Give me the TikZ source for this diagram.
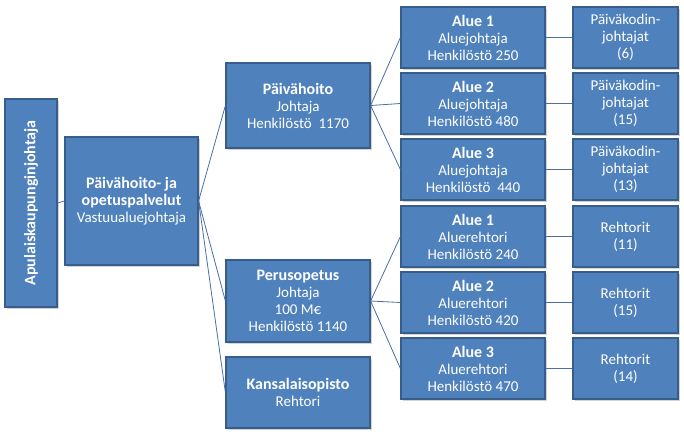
\documentclass[tikz,border=0pt]{standalone}
\usepackage{fontspec}
\setmainfont{Carlito}
\usetikzlibrary{shadows}
\definecolor{bfill}{HTML}{4F81BD}
\definecolor{bdraw}{HTML}{385D8A}
\definecolor{lcol}{HTML}{4A6FA5}
\tikzset{
  bx/.style={draw=bdraw, line width=1.2pt, fill=bfill, text=white, align=center, font=\fontsize{15}{17}\selectfont, inner sep=1pt, drop shadow={shadow xshift=2pt, shadow yshift=-2pt, opacity=0.35}},
  ln/.style={draw=lcol, line width=0.8pt}
}
\newcommand{\hd}[1]{{\bfseries\fontsize{16}{18}\selectfont #1}}
\begin{document}
\begin{tikzpicture}[x=1pt,y=-1pt]
\useasboundingbox (0,0) rectangle (684,442);
\newcommand{\bxat}[6]{\node[bx, minimum width=#4pt, minimum height=#5pt] (#1) at (#2,#3) {#6};}
\bxat{a}{31}{203}{52}{208}{}
\node[text=white, rotate=90, font=\bfseries\fontsize{16}{18}\selectfont] (at) at (a) {Apulaiskaupunginjohtaja};
\bxat{b}{131.5}{201}{133}{128}{\hd{Päivähoito- ja}\\\hd{opetuspalvelut}\\Vastuualuejohtaja}
\bxat{p}{298}{105.5}{144}{85}{\hd{Päivähoito}\\Johtaja\\Henkilöstö\ \ 1170}
\bxat{q}{298}{301}{144}{82}{\hd{Perusopetus}\\Johtaja\\100 M€\\Henkilöstö 1140}
\bxat{k}{298}{392.5}{144}{71}{\hd{Kansalaisopisto}\\Rehtori}
\bxat{r1}{473}{37.5}{144}{61}{\hd{Alue 1}\\Aluejohtaja\\Henkilöstö 250}
\bxat{r2}{473}{103.5}{144}{61}{\hd{Alue 2}\\Aluejohtaja\\Henkilöstö 480}
\bxat{r3}{473}{169.5}{144}{61}{\hd{Alue 3}\\Aluejohtaja\\Henkilöstö\ \ 440}
\bxat{r4}{473}{236.5}{144}{61}{\hd{Alue 1}\\Aluerehtori\\Henkilöstö 240}
\bxat{r5}{473}{302.5}{144}{61}{\hd{Alue 2}\\Aluerehtori\\Henkilöstö 420}
\bxat{r6}{473}{368.5}{144}{61}{\hd{Alue 3}\\Aluerehtori\\Henkilöstö 470}
\bxat{s1}{625.5}{37.5}{105}{61}{Päiväkodin-\\johtajat\\(6)}
\bxat{s2}{625.5}{103.5}{105}{61}{Päiväkodin-\\johtajat\\(15)}
\bxat{s3}{625.5}{169.5}{105}{61}{Päiväkodin-\\johtajat\\(13)}
\bxat{s4}{625.5}{236.5}{105}{61}{Rehtorit\\(11)}
\bxat{s5}{625.5}{302.5}{105}{61}{Rehtorit\\(15)}
\bxat{s6}{625.5}{368.5}{105}{61}{Rehtorit\\(14)}
\draw[ln] (a.east) -- (b.west);
\foreach \t in {p,q,k} \draw[ln] (b.east) -- (\t.west);
\foreach \t in {r1,r2,r3} \draw[ln] (p.east) -- (\t.west);
\foreach \t in {r4,r5,r6} \draw[ln] (q.east) -- (\t.west);
\foreach \i in {1,...,6} \draw[ln] (r\i.east) -- (s\i.west);
\end{tikzpicture}
\end{document}
